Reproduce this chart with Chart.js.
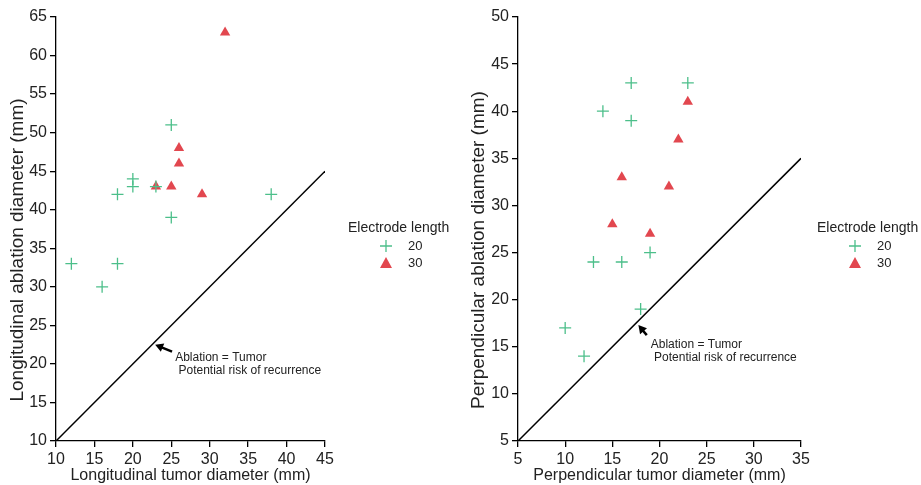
<!DOCTYPE html>
<html>
<head>
<meta charset="utf-8">
<script src="https://cdn.jsdelivr.net/npm/chart.js@4.4.0/dist/chart.umd.min.js"></script>
<style>
  body { margin: 0; background: #fff; }
  .wrap { display: flex; width: 921px; height: 485px; }
  #left { width: 460px; height: 485px; }
  #right { width: 461px; height: 485px; }
</style>
</head>
<body>
<div class="wrap">
  <div id="left"><canvas id="c1"></canvas></div>
  <div id="right"><canvas id="c2"></canvas></div>
</div>
<script>
// longitudinal (left panel)
let longTumor20 = [12, 16, 18, 18, 20, 20, 23, 25, 25, 38];
let longAbl20   = [33, 30, 33, 42, 44, 43, 43, 51, 39, 42];
let longTumor30 = [23, 25, 26, 26, 29, 32];
let longAbl30   = [43, 43, 48, 46, 42, 63];

// perpendicular (right panel)
let perpTumor20 = [10, 12, 13, 14, 16, 17, 17, 18, 19, 23];
let perpAbl20   = [17, 14, 24, 40, 24, 43, 39, 19, 25, 43];
let perpTumor30 = [15, 16, 19, 21, 22, 23];
let perpAbl30   = [28, 33, 27, 32, 37, 41];

let legendTitle = 'Electrode length';
let groups = ['20', '30'];
let noteLines = ['Ablation = Tumor', ' Potential risk of recurrence'];

let green = '#4cbf8a';
let red = '#e2474f';
let font = '"Liberation Sans", Arial, sans-serif';

function pts(xs, ys) {
   let out = [];
   for (let i = 0; i < xs.length; i++) out.push({x: xs[i], y: ys[i]});
   return out;
}

// legend, y title and arrow note, drawn with the chart's own scales
function extras(cfg) {
   return {
      id: 'extras',
      afterDraw(chart) {
         let ctx = chart.ctx;
         let xs = chart.scales.x, ys = chart.scales.y;
         ctx.save();
         // y title (sits a bit below the axis middle in the original)
         ctx.save();
         ctx.translate(cfg.yTitleX, (chart.chartArea.top + chart.chartArea.bottom) / 2 + 21);
         ctx.rotate(-Math.PI / 2);
         ctx.fillStyle = '#222';
         ctx.font = '19px ' + font;
         ctx.textAlign = 'center';
         ctx.textBaseline = 'middle';
         ctx.fillText(cfg.yTitle, 0, 0);
         ctx.restore();
         // arrow
         let hx = xs.getPixelForValue(cfg.head[0]), hy = ys.getPixelForValue(cfg.head[1]);
         let tx = xs.getPixelForValue(cfg.tail[0]), ty = ys.getPixelForValue(cfg.tail[1]);
         let ang = Math.atan2(hy - ty, hx - tx);
         ctx.strokeStyle = '#000';
         ctx.fillStyle = '#000';
         ctx.lineWidth = 2.5;
         ctx.beginPath();
         ctx.moveTo(tx, ty);
         ctx.lineTo(hx - 5 * Math.cos(ang), hy - 5 * Math.sin(ang));
         ctx.stroke();
         ctx.beginPath();
         ctx.moveTo(hx, hy);
         ctx.lineTo(hx - 8 * Math.cos(ang) + 4.5 * Math.sin(ang), hy - 8 * Math.sin(ang) - 4.5 * Math.cos(ang));
         ctx.lineTo(hx - 8 * Math.cos(ang) - 4.5 * Math.sin(ang), hy - 8 * Math.sin(ang) + 4.5 * Math.cos(ang));
         ctx.closePath();
         ctx.fill();
         // note text
         ctx.fillStyle = '#222';
         ctx.font = '12px ' + font;
         ctx.textBaseline = 'middle';
         ctx.textAlign = 'left';
         let nx = xs.getPixelForValue(cfg.text[0]);
         let ny = ys.getPixelForValue(cfg.text[1]);
         ctx.fillText(noteLines[0], nx, ny);
         ctx.fillText(noteLines[1], nx, ny + 13);
         // legend
         let lx = chart.chartArea.right + cfg.legendOff;
         ctx.font = '14px ' + font;
         ctx.fillStyle = '#222';
         ctx.fillText(legendTitle, lx, 228);
         ctx.font = '13px ' + font;
         // plus
         ctx.strokeStyle = green;
         ctx.lineWidth = 1.3;
         ctx.beginPath();
         ctx.moveTo(lx + 32, 246); ctx.lineTo(lx + 44, 246);
         ctx.moveTo(lx + 38, 240); ctx.lineTo(lx + 38, 252);
         ctx.stroke();
         ctx.fillText(groups[0], lx + 60, 246);
         // triangle
         ctx.fillStyle = red;
         ctx.beginPath();
         ctx.moveTo(lx + 38, 257); ctx.lineTo(lx + 44, 268); ctx.lineTo(lx + 32, 268);
         ctx.closePath();
         ctx.fill();
         ctx.fillStyle = '#222';
         ctx.fillText(groups[1], lx + 60, 263);
         ctx.restore();
      }
   };
}

function axis(title, min, max, isY, fixedSize) {
   return {
      type: 'linear',
      min: min, max: max,
      border: { display: true, color: '#000', width: 1.3 },
      grid: { display: true, drawOnChartArea: false, drawTicks: true, tickLength: 6, color: '#000', lineWidth: 1.3 },
      ticks: { stepSize: 5, color: '#222', font: { family: font, size: 16 }, padding: 3 },
      title: {
         display: !isY, text: title, color: '#222',
         font: { family: font, size: 16 },
         padding: { top: 0, bottom: 0 }
      },
      afterFit(scale) {
         if (isY) scale.width = fixedSize; else scale.height = fixedSize;
      }
   };
}

function makeChart(id, p) {
   new Chart(document.getElementById(id), {
      type: 'scatter',
      data: {
         datasets: [
            {
               label: groups[0],
               data: pts(p.t20, p.a20),
               pointStyle: 'cross',
               pointRadius: 6,
               borderColor: green,
               borderWidth: 1.3,
               backgroundColor: green
            },
            {
               label: groups[1],
               data: pts(p.t30, p.a30),
               pointStyle: 'triangle',
               pointRadius: 6,
               borderWidth: 0,
               backgroundColor: red
            },
            {
               type: 'line',
               label: 'Ablation = Tumor',
               data: [{x: p.min, y: p.min}, {x: p.max, y: p.max}],
               borderColor: '#000',
               borderWidth: 1.5,
               pointRadius: 0,
               fill: false
            }
         ]
      },
      options: {
         responsive: true,
         maintainAspectRatio: false,
         animation: false,
         layout: { padding: { top: 17, right: p.padRight, left: 0, bottom: 0 } },
         plugins: { legend: { display: false }, tooltip: { enabled: false } },
         scales: {
            x: axis(p.xTitle, p.xMin, p.xMax, false, 44),
            y: axis(p.yTitle, p.yMin, p.yMax, true, p.yWidth)
         }
      },
      plugins: [extras(p.note)]
   });
}

makeChart('c1', {
   t20: longTumor20, a20: longAbl20, t30: longTumor30, a30: longAbl30,
   min: 10, max: 45,
   xMin: 10, xMax: 45, yMin: 10, yMax: 65,
   xTitle: 'Longitudinal tumor diameter (mm)',
   yTitle: 'Longitudinal ablation diameter (mm)',
   padRight: 135, yWidth: 56,
   note: { head: [22.9, 22.5], tail: [25.1, 21.6], text: [25.5, 20.8], legendOff: 23,
           yTitle: 'Longitudinal ablation diameter (mm)', yTitleX: 18 }
});

makeChart('c2', {
   t20: perpTumor20, a20: perpAbl20, t30: perpTumor30, a30: perpAbl30,
   min: 5, max: 35,
   xMin: 5, xMax: 35, yMin: 5, yMax: 50,
   xTitle: 'Perpendicular tumor diameter (mm)',
   yTitle: 'Perpendicular ablation diameter (mm)',
   padRight: 120, yWidth: 58,
   note: { head: [17.76, 17.3], tail: [18.65, 16.24], text: [19.07, 15.25], legendOff: 16,
           yTitle: 'Perpendicular ablation diameter (mm)', yTitleX: 19 }
});
</script>
</body>
</html>
